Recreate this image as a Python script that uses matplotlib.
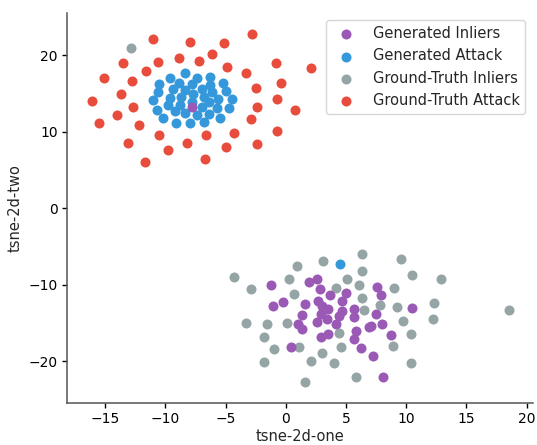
import matplotlib
matplotlib.use('Agg')
import matplotlib.pyplot as plt
import seaborn as sns

# t-SNE coordinates
gen_inliers_x = [-7.8, -1.2, 1.9, 2.6, 2.8, 3.7, 5.0, 7.6, 7.9, -1.1, -0.2, 1.6, 2.7, 4.7,
                 3.5, 4.7, 5.7, 7.5, 10.5, 1.3, 2.9, 2.6, 3.4, 5.7, 1.0, 1.3, 4.2, 6.9,
                 7.1, 8.0, 2.9, 3.5, 5.8, 5.7, 8.7, 0.4, 6.2, 7.2, 8.1, 3.0, 4.4]
gen_inliers_y = [13.2, -10.1, -9.7, -9.2, -10.6, -11.3, -11.1, -10.3, -11.4, -12.8, -12.3,
                 -12.5, -12.2, -12.2, -13.2, -13.4, -13.2, -13.8, -13.0, -14.0, -13.8,
                 -14.9, -14.5, -14.3, -15.2, -15.8, -15.1, -15.5, -15.4, -15.2, -16.8,
                 -16.4, -16.1, -17.1, -16.6, -18.1, -18.3, -19.3, -22.1, -12.8, -14.1]

gen_attack_x = [-8.4, -7.4, -6.3, -9.6, -10.5, -8.9, -7.8, -6.3, -5.2, -9.4, -8.4, -7.0,
                -6.1, -5.0, -10.6, -7.7, -11.0, -9.6, -8.7, -6.8, -5.6, -4.5, -7.8, -6.4,
                -9.8, -8.8, -10.7, -9.2, -8.4, -7.0, -5.7, -4.7, -10.2, -7.4, -6.4, -5.5,
                -9.1, -8.0, -6.8, 4.5]
gen_attack_y = [17.7, 17.1, 17.2, 17.0, 16.2, 16.4, 16.3, 16.1, 16.4, 15.6, 15.5, 15.6,
                15.2, 15.3, 15.2, 14.9, 14.2, 14.4, 14.6, 14.5, 14.3, 14.3, 13.9, 13.9,
                13.5, 13.5, 12.9, 12.7, 12.4, 13.2, 13.1, 13.1, 11.8, 12.2, 12.3, 11.8,
                11.1, 11.2, 11.3, -7.3]

gt_inliers_x = [-12.9, 6.3, 9.6, 0.9, 3.1, 6.3, -4.3, 10.5, 12.9, 0.3, 5.1, -2.9, 4.2, 6.1,
                9.0, 0.7, 6.3, 7.8, 6.5, 9.2, 12.3, 18.5, -3.3, -1.6, 0.1, 9.7, 12.2,
                -1.8, 4.4, 10.4, -1.0, 1.1, 4.6, 8.9, 3.0, -1.8, 2.1, 4.0, 10.4, 1.6, 5.8]
gt_inliers_y = [21.0, -6.0, -6.6, -7.6, -6.9, -8.2, -9.0, -8.8, -9.2, -9.3, -9.2, -10.6,
                -10.4, -10.1, -10.5, -11.2, -11.8, -12.7, -13.3, -12.9, -12.4, -13.3,
                -15.0, -15.2, -15.0, -14.7, -14.5, -16.8, -16.3, -16.5, -18.4, -18.2,
                -18.1, -18.0, -19.0, -20.1, -20.0, -20.2, -20.2, -22.7, -22.1]

gt_attack_x = [-11.0, -8.0, -5.1, -2.8, -13.5, -10.6, -8.9, -7.2, -6.1, -4.9, -0.8, 2.1,
               -15.1, -11.6, -12.8, -3.3, -0.4, -13.7, -2.5, -16.1, -12.7, -0.7, -2.4,
               -15.5, -14.0, -12.2, 0.8, -2.9, -10.5, -6.6, -4.3, -0.7, -13.1, -8.2,
               -9.8, -5.0, -2.4, -11.7, -6.7]
gt_attack_y = [22.1, 21.8, 21.6, 22.8, 19.0, 19.1, 19.7, 19.3, 20.2, 18.5, 19.0, 18.4,
               17.1, 18.0, 16.6, 17.7, 16.4, 15.0, 15.7, 14.0, 13.2, 14.3, 13.3, 11.2,
               12.2, 10.9, 12.9, 11.7, 9.6, 9.6, 9.9, 10.1, 8.6, 8.6, 7.6, 8.0, 8.4,
               6.1, 6.4]

sns.set_style('ticks')
plt.rcParams['font.family'] = ['DejaVu Sans']

fig = plt.figure(figsize=(5.37, 4.45), dpi=100)
ax = fig.add_axes([0.1253, 0.0951, 0.8667, 0.8757])

# ground truth first, generated points on top
ax.scatter(gt_inliers_x, gt_inliers_y, s=52, color='#95a5a6', linewidths=0, zorder=2,
           label='Ground-Truth Inliers')
ax.scatter(gt_attack_x, gt_attack_y, s=52, color='#e74c3c', linewidths=0, zorder=2,
           label='Ground-Truth Attack')
ax.scatter(gen_attack_x, gen_attack_y, s=52, color='#3498db', linewidths=0, zorder=3,
           label='Generated Attack')
ax.scatter(gen_inliers_x, gen_inliers_y, s=52, color='#9b59b6', linewidths=0, zorder=4,
           label='Generated Inliers')

ax.set_xlim(-18.15, 20.5)
ax.set_ylim(-25.45, 25.55)
ax.set_xticks([-15, -10, -5, 0, 5, 10, 15, 20])
ax.set_yticks([-20, -10, 0, 10, 20])
ax.tick_params(labelsize=10, length=3.5, width=1, colors='black')
for sp in ['left', 'bottom']:
    ax.spines[sp].set_color('#555555')
    ax.spines[sp].set_linewidth(1.1)
sns.despine(ax=ax)

ax.set_xlabel('tsne-2d-one', fontsize=10.5, labelpad=2)
ax.set_ylabel('tsne-2d-two', fontsize=10.5, labelpad=4)

# legend in the reference order
handles, labels = ax.get_legend_handles_labels()
order = ['Generated Inliers', 'Generated Attack', 'Ground-Truth Inliers', 'Ground-Truth Attack']
hmap = dict(zip(labels, handles))
ax.legend([hmap[k] for k in order], order, loc='upper right', fontsize=10.5)

fig.savefig('out.png', dpi=100)
